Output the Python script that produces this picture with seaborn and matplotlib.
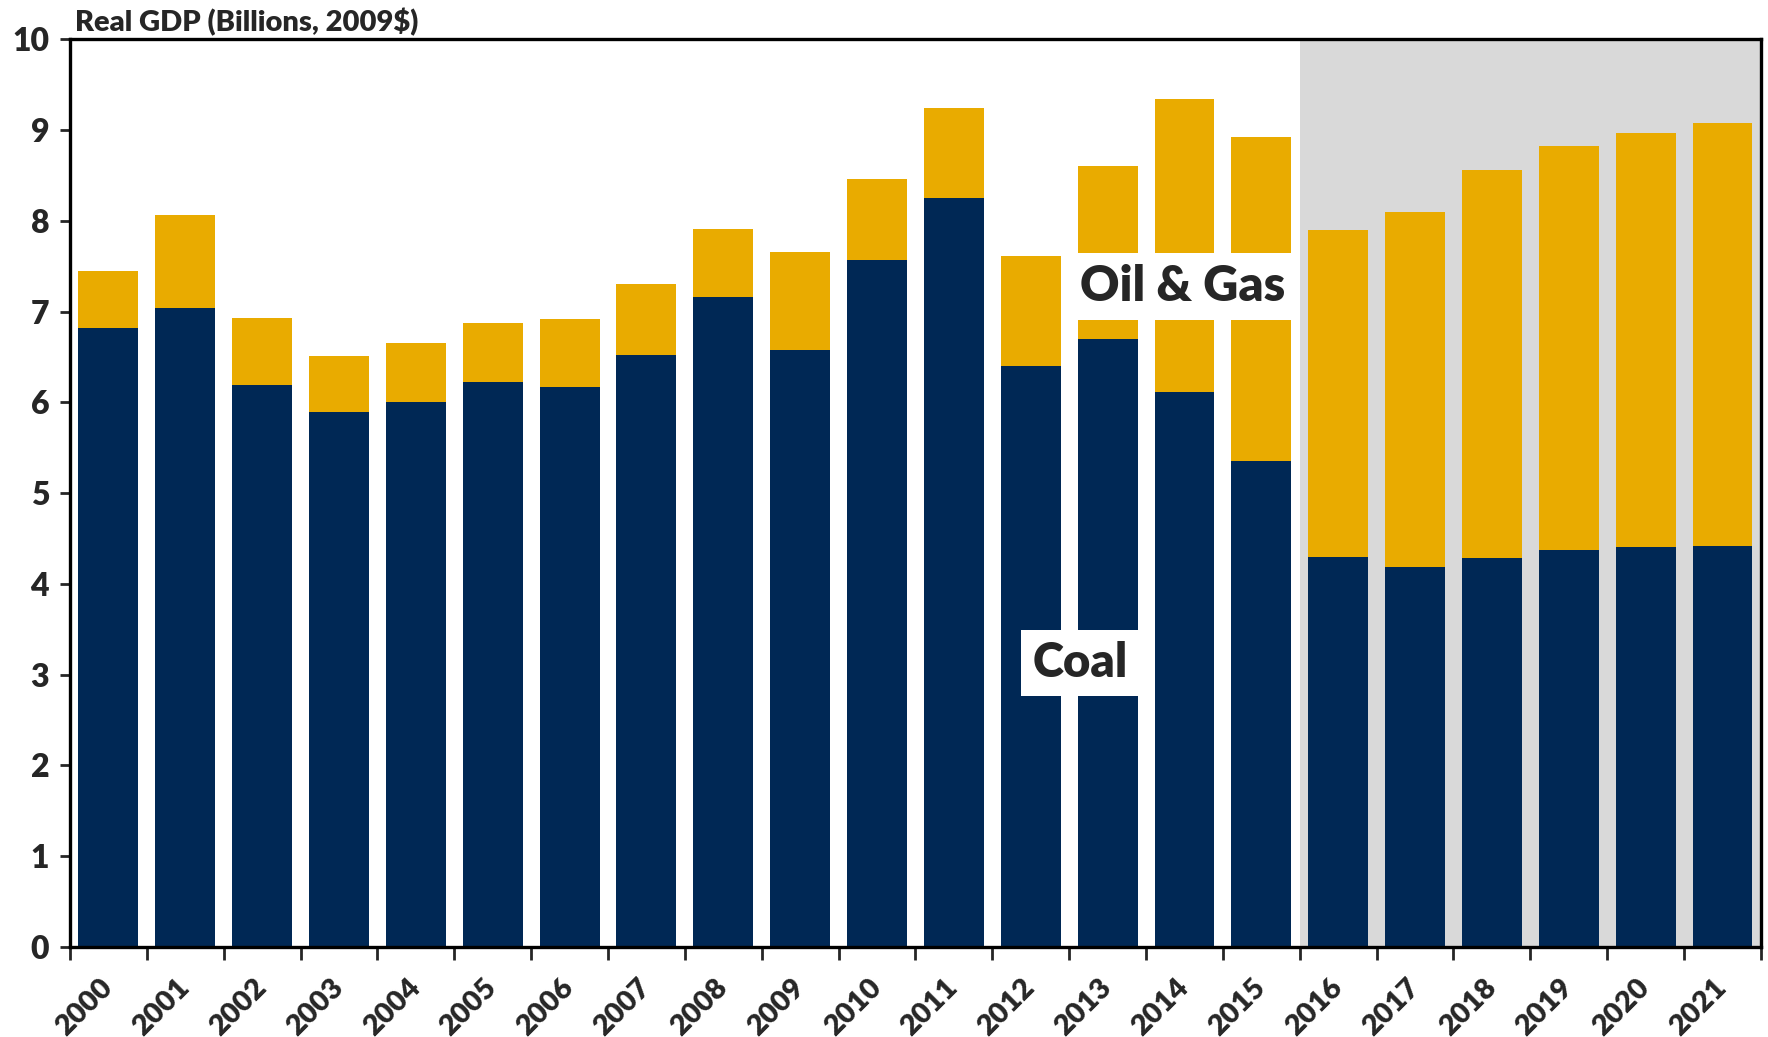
import matplotlib
matplotlib.use("Agg")
import matplotlib.pyplot as plt
import pandas as pd
import seaborn as sns

years = [str(y) for y in range(2000, 2022)]
coal = [6.82, 7.04, 6.19, 5.89, 6.01, 6.22, 6.17, 6.52, 7.16, 6.58, 7.57,
        8.25, 6.40, 6.70, 6.12, 5.35, 4.30, 4.19, 4.29, 4.37, 4.41, 4.42]
total = [7.45, 8.06, 6.93, 6.51, 6.66, 6.87, 6.92, 7.30, 7.91, 7.66, 8.46,
         9.24, 7.61, 8.60, 9.34, 8.93, 7.90, 8.10, 8.56, 8.83, 8.97, 9.08]
forecast_start = "2016"

NAVY = "#002855"
GOLD = "#E9AB00"
SHADE = "#D9D9D9"

sns.set_theme(style="white")
plt.rcParams["font.family"] = ["Lato", "DejaVu Sans"]
plt.rcParams["font.weight"] = "bold"

df = pd.DataFrame({"year": years, "coal": coal, "total": total})

fig = plt.figure(figsize=(17.68, 10.37), dpi=100)
ax = fig.add_axes([0.0396, 0.0868, 0.9564, 0.8752])

# shaded projection period
x0 = years.index(forecast_start) - 0.5
ax.axvspan(x0, len(years) - 0.5, color=SHADE, zorder=0, lw=0)

sns.barplot(data=df, x="year", y="total", color=GOLD, saturation=1,
            width=0.78, linewidth=0, ax=ax, zorder=2)
sns.barplot(data=df, x="year", y="coal", color=NAVY, saturation=1,
            width=0.78, linewidth=0, ax=ax, zorder=3)

ax.set_xlim(-0.5, len(years) - 0.5)
ax.set_ylim(0, 10)
ax.set_yticks(range(0, 11))
ax.set_xlabel("")
ax.set_ylabel("")

for s in ax.spines.values():
    s.set_linewidth(2.4)
    s.set_color("black")
    s.set_zorder(5)

ax.tick_params(axis="y", which="major", direction="out", length=7, width=2,
               labelsize=23, pad=8, left=True)
ax.tick_params(axis="x", which="major", length=0, labelsize=21, pad=26)
ax.set_xticks([i - 0.5 for i in range(len(years) + 1)], minor=True)
ax.tick_params(axis="x", which="minor", direction="out", length=9, width=2,
               bottom=True)
for lab in ax.get_xticklabels():
    lab.set_rotation(45)
    lab.set_ha("right")
    lab.set_va("center")
    lab.set_rotation_mode("anchor")
    lab.set_fontweight("heavy")
for lab in ax.get_yticklabels():
    lab.set_fontweight("heavy")

ax.text(0.003, 1.004, "Real GDP (Billions, 2009$)", transform=ax.transAxes,
        ha="left", va="bottom", fontsize=21, fontweight="heavy")

box = dict(facecolor="white", edgecolor="none", pad=8)
ax.text(13.98, 7.28, "Oil & Gas", ha="center", va="center", fontsize=35,
        fontweight="heavy", bbox=box, zorder=6)
ax.text(12.64, 3.13, "Coal", ha="center", va="center", fontsize=34,
        fontweight="heavy", bbox=box, zorder=6)

fig.savefig("out.png", dpi=100, facecolor="white")
